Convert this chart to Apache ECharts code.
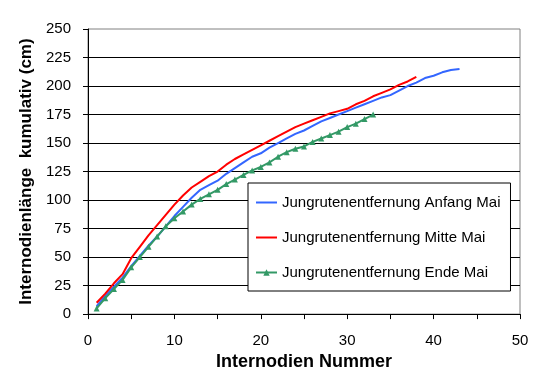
<!DOCTYPE html>
<html>
<head>
<meta charset="utf-8">
<script src="https://cdn.jsdelivr.net/npm/echarts@6/dist/echarts.min.js"></script>
<style>
  html, body { margin: 0; padding: 0; background: #fff; }
  #chart { width: 542px; height: 376px; }
</style>
</head>
<body>
<div id="chart"></div>
<script>
// Internodien Nummer
var nummer = [1, 2, 3, 4, 5, 6, 7, 8, 9, 10, 11, 12, 13, 14, 15, 16, 17, 18, 19, 20,
  21, 22, 23, 24, 25, 26, 27, 28, 29, 30, 31, 32, 33, 34, 35, 36, 37, 38, 39, 40, 41, 42, 43]
// Internodienlänge kumulativ (cm)
var anfangMai = [7, 16, 24, 32, 42, 51, 60, 68, 77, 86, 94, 102, 109, 113, 117, 123, 128, 133, 138, 141,
  146, 150, 154, 158, 161, 165, 169, 172, 175, 178, 181, 184, 187, 190, 192, 196, 200, 203, 207, 209, 212, 214, 215]
var mitteMai = [10, 18, 27, 35, 49, 59, 69, 78, 87, 96, 104, 111, 116, 121, 125, 131, 136, 140, 144, 148,
  152, 156, 160, 164, 167, 170, 173, 176, 178, 180, 184, 187, 191, 194, 197, 201, 204, 208]
var endeMai = [5, 14, 22, 30, 41, 50, 59, 68, 77, 84, 90, 96, 101, 105, 109, 114, 118, 122, 126, 129,
  133, 138, 142, 145, 147, 151, 154, 157, 160, 164, 167, 171, 175]

var schrift = 'Arial, "Liberation Sans", sans-serif'

function paare(werte) {
  return werte.map(function (v, i) { return [nummer[i], v] })
}

var myChart = echarts.init(document.getElementById('chart'))
var option = {
  animation: false,
  backgroundColor: '#fff',
  grid: {
    left: 88, right: 22, top: 29, bottom: 61,
    show: true, borderColor: '#808080', borderWidth: 1
  },
  legend: {
    orient: 'vertical',
    left: 248, top: 183,
    backgroundColor: '#fff',
    borderColor: '#000', borderWidth: 1, borderRadius: 0,
    padding: [12, 10, 11, 7],
    itemGap: 20,
    itemWidth: 21, itemHeight: 8,
    textStyle: { fontFamily: schrift, fontSize: 15, color: '#000', padding: [2, 0, 0, 0] },
    data: [
      { name: 'Jungrutenentfernung Anfang Mai', itemStyle: { opacity: 0 } },
      { name: 'Jungrutenentfernung Mitte Mai', itemStyle: { opacity: 0 } },
      { name: 'Jungrutenentfernung Ende Mai' }
    ]
  },
  xAxis: {
    type: 'value',
    min: 0, max: 50, interval: 5,
    name: 'Internodien Nummer',
    nameLocation: 'middle',
    nameGap: 36,
    nameTextStyle: { fontFamily: schrift, fontSize: 18, fontWeight: 'bold', color: '#000' },
    axisLine: { show: true, lineStyle: { color: '#000', width: 1 } },
    axisTick: { show: true, inside: false, length: 5, lineStyle: { color: '#000' } },
    axisLabel: {
      fontFamily: schrift, fontSize: 15, color: '#000', margin: 19,
      formatter: function (v) { return v % 10 === 0 ? String(v) : '' }
    },
    splitLine: { show: false }
  },
  yAxis: {
    type: 'value',
    min: 0, max: 250, interval: 25,
    name: 'Internodienlänge  kumulativ (cm)',
    nameLocation: 'middle',
    nameGap: 52,
    nameTextStyle: { fontFamily: schrift, fontSize: 17, fontWeight: 'bold', color: '#000' },
    axisLine: { show: true, lineStyle: { color: '#000', width: 1 } },
    axisTick: { show: true, inside: false, length: 5, lineStyle: { color: '#000' } },
    axisLabel: { fontFamily: schrift, fontSize: 15, color: '#000', margin: 17 },
    splitLine: { show: true, showMaxLine: false, lineStyle: { color: '#000', width: 1 } }
  },
  series: [
    {
      name: 'Jungrutenentfernung Anfang Mai',
      type: 'line',
      data: paare(anfangMai),
      symbol: 'none',
      lineStyle: { color: '#3366FF', width: 2 },
      itemStyle: { color: '#3366FF' },
      z: 3
    },
    {
      name: 'Jungrutenentfernung Mitte Mai',
      type: 'line',
      data: paare(mitteMai),
      symbol: 'none',
      lineStyle: { color: '#FF0000', width: 2 },
      itemStyle: { color: '#FF0000' },
      z: 4
    },
    {
      name: 'Jungrutenentfernung Ende Mai',
      type: 'line',
      data: paare(endeMai),
      symbol: 'triangle',
      symbolSize: 6,
      showAllSymbol: true,
      lineStyle: { color: '#339966', width: 2 },
      itemStyle: { color: '#339966' },
      z: 5
    }
  ]
}
myChart.setOption(option)
</script>
</body>
</html>
